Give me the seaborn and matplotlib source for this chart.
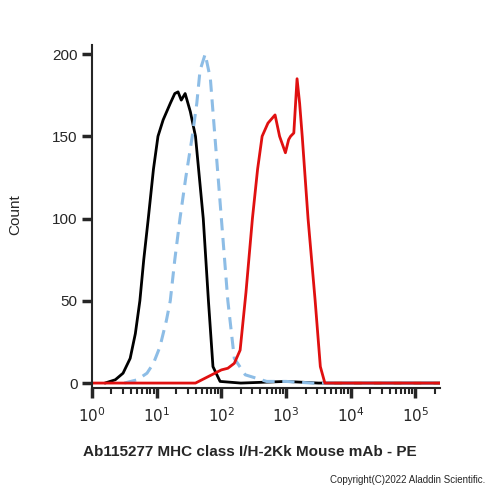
import numpy as np
import pandas as pd
import seaborn as sns
import matplotlib.pyplot as plt
from matplotlib.ticker import LogLocator, FixedLocator

# log10 intensity / count
black_logx = [0.2, 0.36, 0.48, 0.59, 0.67, 0.74, 0.8, 0.87, 0.95, 1.02, 1.1, 1.21, 1.28, 1.33, 1.38, 1.44, 1.52, 1.6, 1.66, 1.72, 1.8, 1.87, 1.98, 2.3, 3.0, 3.5, 5.4]
black_y = [0, 2, 6, 15, 30, 50, 75, 100, 130, 150, 160, 170, 176, 177, 172, 176, 165, 150, 125, 100, 50, 10, 1, 0, 1, 0, 0]
blue_logx = [0.5, 0.7, 0.85, 0.95, 1.05, 1.15, 1.21, 1.28, 1.36, 1.45, 1.55, 1.62, 1.67, 1.75, 1.83, 1.9, 2.0, 2.1, 2.2, 2.37, 2.7, 3.0, 3.4, 5.4]
blue_y = [0, 2, 6, 12, 22, 38, 50, 75, 100, 125, 150, 170, 190, 200, 185, 150, 100, 50, 15, 5, 1, 1, 0, 0]
red_logx = [0.0, 1.6, 1.75, 1.9, 2.0, 2.1, 2.2, 2.29, 2.38, 2.48, 2.56, 2.63, 2.72, 2.83, 2.9, 2.99, 3.04, 3.07, 3.12, 3.17, 3.21, 3.25, 3.34, 3.45, 3.53, 3.6, 5.4]
red_y = [0, 0, 3, 6, 8, 9, 12, 20, 55, 100, 130, 150, 158, 163, 150, 140, 148, 150, 152, 185, 170, 150, 100, 50, 10, 0, 0]

sns.set_style("white")
plt.rcParams['font.family'] = ['Liberation Sans', 'DejaVu Sans']

fig = plt.figure(figsize=(5, 5), dpi=100)
ax = fig.add_axes([0.184, 0.224, 0.696, 0.686])

sns.lineplot(x=10 ** np.array(black_logx), y=black_y, color="black", lw=2, ax=ax)
sns.lineplot(x=10 ** np.array(blue_logx), y=blue_y, color="#8dbde6", lw=2.2, ax=ax, linestyle=(0, (4, 2.5)))
sns.lineplot(x=10 ** np.array(red_logx), y=red_y, color="#e01010", lw=2, ax=ax)

ax.set_xscale("log")
ax.set_xlim(1, 10 ** 5.38)
ax.set_ylim(-3, 205.5)
ax.xaxis.set_major_locator(FixedLocator([10 ** i for i in range(6)]))
ax.xaxis.set_minor_locator(LogLocator(base=10, subs=np.arange(2, 10)))
ax.set_xticklabels([f"$10^{{{i}}}$" for i in range(6)])
ax.set_yticks([0, 50, 100, 150, 200])

for s in ["top", "right"]:
    ax.spines[s].set_visible(False)
for s in ["left", "bottom"]:
    ax.spines[s].set_linewidth(1.5)
ax.tick_params(axis="both", which="major", direction="out", length=7, width=2.5, labelsize=11, bottom=True, left=True)
ax.tick_params(axis="x", which="minor", direction="out", length=4, width=1.5, bottom=True)
ax.tick_params(axis="x", pad=6)

ax.set_xlabel("")
ax.set_ylabel("")
fig.text(0.5, 0.096, "Ab115277 MHC class I/H-2Kk Mouse mAb - PE", ha="center", va="center", fontsize=11, fontweight="bold")
fig.text(0.03, 0.57, "Count", rotation=90, ha="center", va="center", fontsize=11)
fig.text(0.97, 0.04, "Copyright(C)2022 Aladdin Scientific.", ha="right", va="center", fontsize=7)

fig.savefig("out.png", dpi=100)
